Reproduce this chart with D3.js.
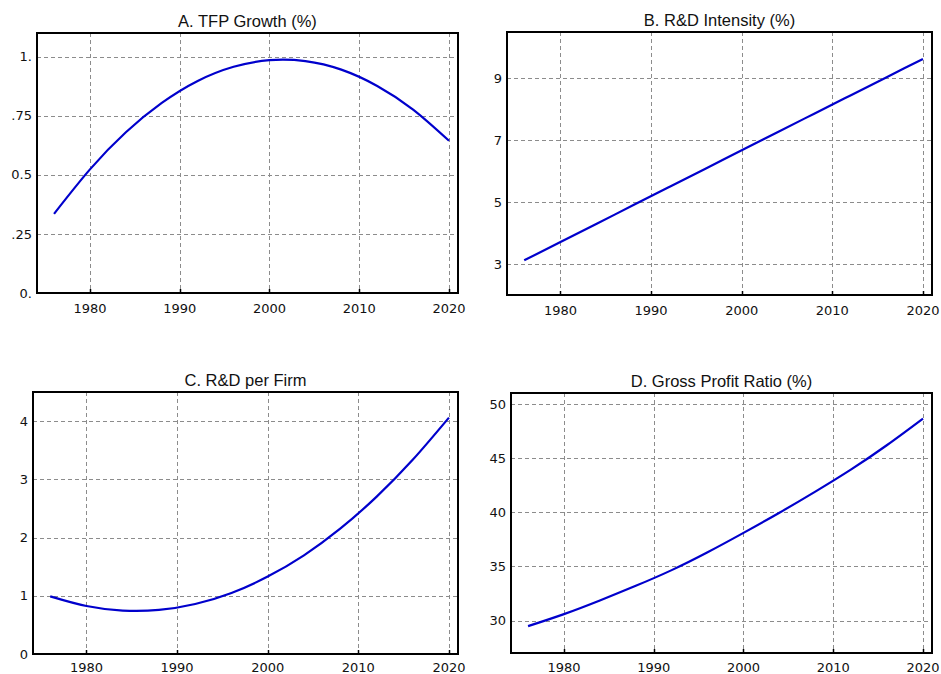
<!DOCTYPE html>
<html lang="en">
<head>
<meta charset="utf-8">
<title>Four panels</title>
<script src="https://d3js.org/d3.v7.min.js"></script>
<style>
  body { margin: 0; background: #fff; }
  .grid line { stroke: #8c8c8c; stroke-width: 1; stroke-dasharray: 4,3; }
  .tick-label { font-family: "DejaVu Sans", Verdana, sans-serif; font-size: 13px; fill: #111; }
  .title { font-family: "Liberation Sans", Arial, sans-serif; font-size: 16.5px; fill: #111; }
</style>
</head>
<body>
<svg width="941" height="674"></svg>
<script>

// data
var years = [1976, 1980, 1984, 1988, 1992, 1996, 2000, 2004, 2008, 2012, 2016, 2020];
var tfpGrowth   = [0.335, 0.523, 0.680, 0.804, 0.897, 0.957, 0.985, 0.981, 0.945, 0.876, 0.776, 0.644];
var rdIntensity = [3.12, 3.71, 4.30, 4.90, 5.49, 6.08, 6.68, 7.27, 7.86, 8.45, 9.04, 9.63];
var rdPerFirm   = [0.99, 0.824, 0.746, 0.757, 0.858, 1.048, 1.33, 1.695, 2.152, 2.699, 3.335, 4.06];
var grossProfit = [29.48, 30.59, 31.85, 33.20, 34.65, 36.30, 38.09, 39.95, 41.90, 43.95, 46.20, 48.64];

var xTicks = [1980, 1990, 2000, 2010, 2020];

var titles = ["A. TFP Growth (%)", "B. R&D Intensity (%)", "C. R&D per Firm", "D. Gross Profit Ratio (%)"];
var yTicksA = [0, 0.25, 0.5, 0.75, 1], yLabelsA = ["0.", ".25", "0.5", ".75", "1."];
var yTicksB = [3, 5, 7, 9],           yLabelsB = ["3", "5", "7", "9"];
var yTicksC = [0, 1, 2, 3, 4],        yLabelsC = ["0", "1", "2", "3", "4"];
var yTicksD = [30, 35, 40, 45, 50],   yLabelsD = ["30", "35", "40", "45", "50"];

var panels = [
  { title: titles[0], values: tfpGrowth,   yDomain: [0, 1.1],  yTicks: yTicksA, yLabels: yLabelsA,
    box: { left: 37,  top: 33,  right: 458, bottom: 293 }, labelGap: 20 },
  { title: titles[1], values: rdIntensity, yDomain: [2, 10.5], yTicks: yTicksB, yLabels: yLabelsB,
    box: { left: 507, top: 32,  right: 932, bottom: 295 }, labelGap: 20 },
  { title: titles[2], values: rdPerFirm,   yDomain: [0, 4.5],  yTicks: yTicksC, yLabels: yLabelsC,
    box: { left: 33,  top: 392, right: 458, bottom: 654 }, labelGap: 18 },
  { title: titles[3], values: grossProfit, yDomain: [27, 51],  yTicks: yTicksD, yLabels: yLabelsD,
    box: { left: 511, top: 393, right: 932, bottom: 653 }, labelGap: 19 }
];

var svg = d3.select("svg");

panels.forEach(function(p) {
  var b = p.box;
  var x = d3.scaleLinear().domain([1974.1, 2021]).range([b.left, b.right]);
  var y = d3.scaleLinear().domain(p.yDomain).range([b.bottom, b.top]);
  var g = svg.append("g");

  // dashed grid
  var grid = g.append("g").attr("class", "grid");
  grid.selectAll(".gx").data(xTicks).enter().append("line")
      .attr("x1", function(d) { return Math.round(x(d)) + 0.5; })
      .attr("x2", function(d) { return Math.round(x(d)) + 0.5; })
      .attr("y1", b.top).attr("y2", b.bottom);
  grid.selectAll(".gy").data(p.yTicks).enter().append("line")
      .attr("y1", function(d) { return Math.round(y(d)) + 0.5; })
      .attr("y2", function(d) { return Math.round(y(d)) + 0.5; })
      .attr("x1", b.left).attr("x2", b.right);

  // series
  var line = d3.line()
      .x(function(d, i) { return x(years[i]); })
      .y(function(d) { return y(d); })
      .curve(d3.curveNatural);
  g.append("path")
      .datum(p.values)
      .attr("fill", "none")
      .attr("stroke", "#0000cc")
      .attr("stroke-width", 2.2)
      .attr("d", line);

  // frame
  g.append("rect")
      .attr("x", b.left).attr("y", b.top)
      .attr("width", b.right - b.left).attr("height", b.bottom - b.top)
      .attr("fill", "none").attr("stroke", "#000").attr("stroke-width", 2);

  // inner ticks on the x axis
  g.selectAll(".tx").data(xTicks).enter().append("line")
      .attr("x1", function(d) { return Math.round(x(d)) + 0.5; })
      .attr("x2", function(d) { return Math.round(x(d)) + 0.5; })
      .attr("y1", b.bottom).attr("y2", b.bottom - 4)
      .attr("stroke", "#000").attr("stroke-width", 1.5);

  // x labels
  g.selectAll(".lx").data(xTicks).enter().append("text")
      .attr("class", "tick-label")
      .attr("x", function(d) { return x(d); })
      .attr("y", b.bottom + p.labelGap)
      .attr("text-anchor", "middle")
      .text(function(d) { return d; });

  // y labels
  g.selectAll(".ly").data(p.yTicks).enter().append("text")
      .attr("class", "tick-label")
      .attr("x", b.left - 5)
      .attr("y", function(d) { return y(d); })
      .attr("dy", "0.36em")
      .attr("text-anchor", "end")
      .text(function(d, i) { return p.yLabels[i]; });

  // title
  g.append("text")
      .attr("class", "title")
      .attr("x", (b.left + b.right) / 2)
      .attr("y", b.top - 6)
      .attr("text-anchor", "middle")
      .text(p.title);
});

</script>
</body>
</html>
